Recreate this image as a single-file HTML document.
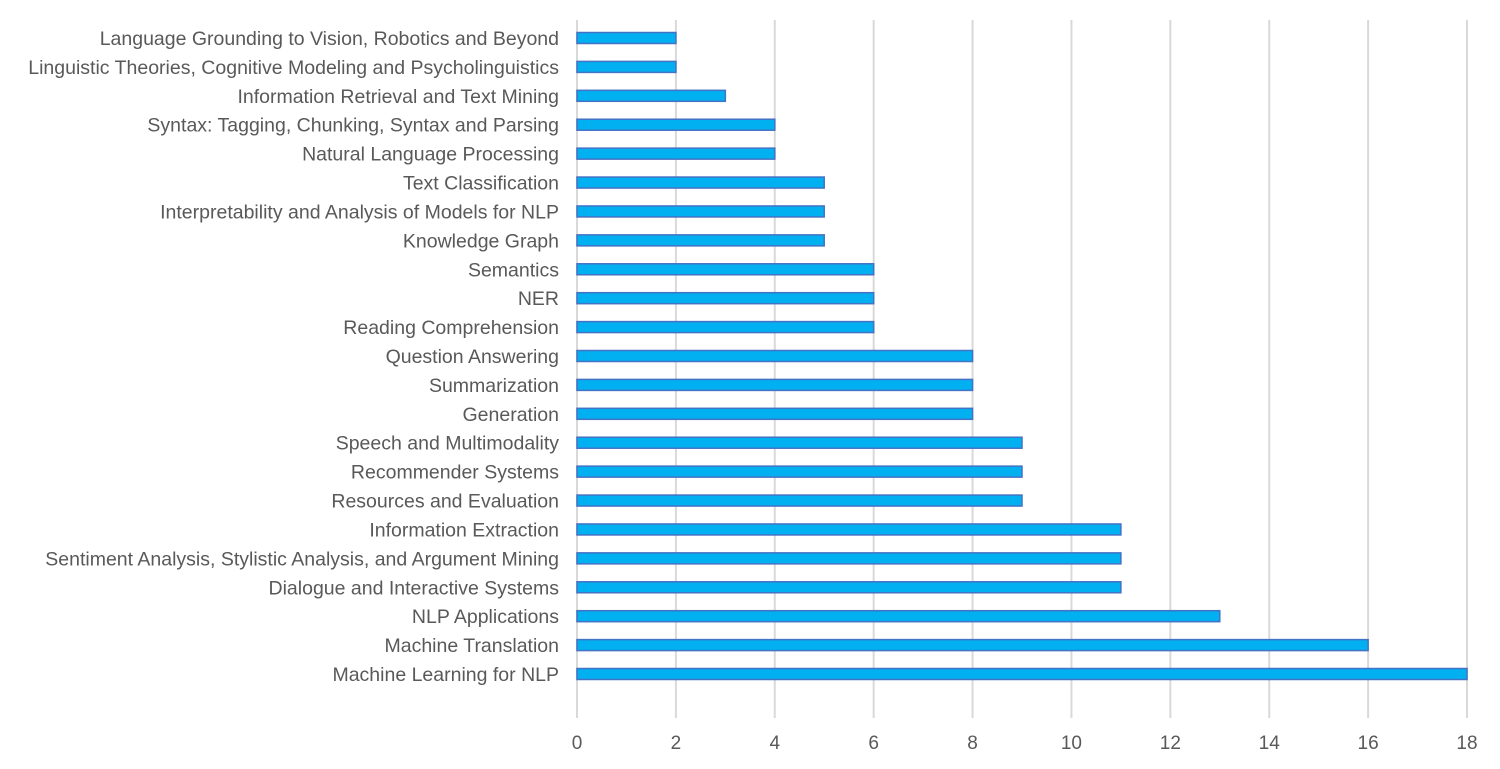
<!DOCTYPE html>
<html><head><meta charset="utf-8"><style>
body{margin:0;background:#fff;}
svg text{font-family:"Liberation Sans",sans-serif;fill:#595959;}
</style></head><body>
<svg width="1500" height="764">
<g id="grid"></g><g id="bars"></g><g id="labels"></g><g id="ticks"></g>
</svg>
<script>
const categories=["Language Grounding to Vision, Robotics and Beyond","Linguistic Theories, Cognitive Modeling and Psycholinguistics","Information Retrieval and Text Mining","Syntax: Tagging, Chunking, Syntax and Parsing","Natural Language Processing","Text Classification","Interpretability and Analysis of Models for NLP","Knowledge Graph","Semantics","NER","Reading Comprehension","Question Answering","Summarization","Generation","Speech and Multimodality","Recommender Systems","Resources and Evaluation","Information Extraction","Sentiment Analysis, Stylistic Analysis, and Argument Mining","Dialogue and Interactive Systems","NLP Applications","Machine Translation","Machine Learning for NLP"];
const values=[2,2,3,4,4,5,5,5,6,6,6,8,8,8,9,9,9,11,11,11,13,16,18];
const ticks=[0,2,4,6,8,10,12,14,16,18];
const NS="http://www.w3.org/2000/svg";
const x0=577,x1=1467,xmax=18;
const xs=v=>x0+(x1-x0)*v/xmax;
const ys=i=>38+i*(674-38)/(categories.length-1);
function mk(t,a,p){const e=document.createElementNS(NS,t);for(const k in a)e.setAttribute(k,a[k]);p.appendChild(e);return e;}
const g=document.getElementById('grid'),b=document.getElementById('bars'),l=document.getElementById('labels'),tk=document.getElementById('ticks');
ticks.forEach(t=>{
 const ln=mk('line',{x1:xs(t),x2:xs(t),y1:20,y2:718,stroke:'#d9d9d9','stroke-width':2},g);
 
 
 const tx=mk('text',{x:xs(t),y:749,'text-anchor':'middle','font-size':19},tk);
 tx.textContent=t;
 
 
});
categories.forEach((c,i)=>{
 const y=ys(i);
 const r=mk('rect',{x:xs(0),y:y-5.5,width:xs(values[i])-xs(0),height:11,fill:'#00b0f0',stroke:'#4472c4','stroke-width':1.5},b);
 
 
 const t=mk('text',{x:559,y:y+7,'text-anchor':'end','font-size':19.5},l);
 t.textContent=c;
 
 
});
</script>
</body></html>
